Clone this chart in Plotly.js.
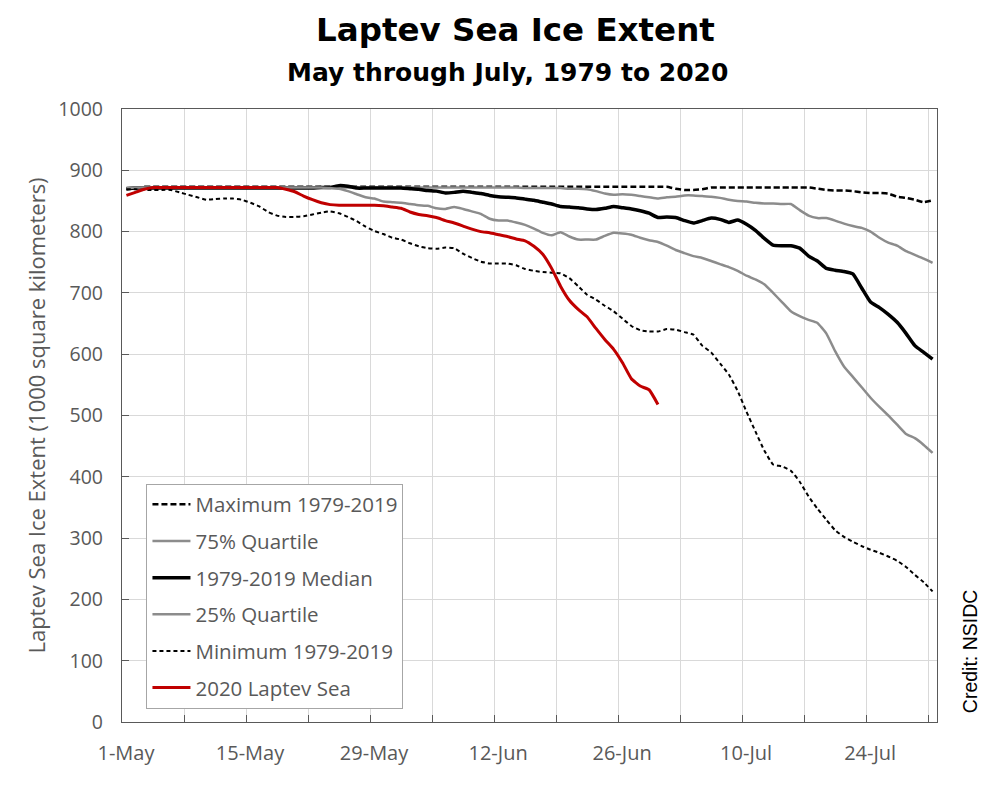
<!DOCTYPE html>
<html><head><meta charset="utf-8">
<script src="https://cdn.plot.ly/plotly-3.0.1.min.js"></script>
<style>html,body{margin:0;padding:0;background:#fff}#chart{width:1005px;height:800px}</style>
</head><body><div id="chart"></div>
<script>
// Daily values (1000 km²), index 0 = 1 May
const maximum = [
  869,871,873,873,873,873,873,873,873,873,
  873,873,873,873,873,873,873,873,873,873,
  873,873,873,873,873,873,873,873,873,873,
  873,873,873,873,873,873,873,873,873,873,
  873,873,873,873,873,873,873,873,873,873,
  873,873,873,873,873,873,873,873,873,873,
  873,873,870,868,868,869,872,872,872,872,
  872,872,872,872,872,872,872,872,870,868,
  867,867,866,864,863,863,862,857,855,852,
  848,851];
const quartile75 = [
  871,872,872,872,872,872,872,872,872,872,
  872,872,872,872,872,872,872,872,872,872,
  872,872,872,872,872,872,872,872,872,872,
  872,872,872,872,872,872,872,872,872,872,
  872,872,872,872,872,871,871,871,871,871,
  870,870,869,866,862,860,861,860,858,856,
  854,856,857,859,859,858,857,855,852,850,
  849,847,846,846,845,845,835,826,822,822,
  818,813,809,806,800,790,782,777,768,762,
  756,749];
const median = [
  870,871,871,871,871,871,871,871,871,871,
  871,871,871,871,871,871,871,871,871,871,
  871,871,872,872,875,874,871,871,871,871,
  871,871,870,869,867,866,863,864,866,864,
  862,859,857,856,855,853,851,848,845,841,
  840,839,837,836,838,841,839,837,834,830,
  823,824,823,818,814,818,822,820,815,819,
  812,802,789,778,777,777,773,760,752,740,
  737,735,731,708,685,676,665,652,634,614,
  603,592];
const quartile25 = [
  871,872,872,872,872,872,872,872,872,872,
  872,872,872,872,872,872,872,872,872,872,
  872,872,872,871,870,866,861,856,854,849,
  848,847,845,843,842,838,837,840,837,833,
  829,821,818,818,815,811,805,798,794,799,
  792,787,787,787,793,798,797,795,790,786,
  783,777,770,765,760,757,752,747,742,736,
  728,722,714,700,685,670,662,656,651,634,
  605,580,563,546,529,514,500,485,470,463,
  452,439];
const minimum = [
  869,869,868,868,868,868,864,860,856,852,
  853,854,854,852,847,841,832,826,824,824,
  825,828,831,833,830,824,817,808,801,796,
  790,787,781,776,773,772,774,773,764,757,
  751,748,748,748,745,739,736,734,733,732,
  724,711,697,689,679,670,658,646,639,637,
  637,641,640,636,632,614,603,585,567,540,
  506,474,443,420,417,410,392,368,348,330,
  313,302,294,287,281,276,270,263,253,240,
  228,213];
const laptev2020 = [
  859,864,869,872,872,872,872,872,872,872,
  872,872,872,872,872,872,872,872,869,865,
  858,852,847,844,843,843,843,843,843,842,
  840,838,832,828,826,823,818,814,809,804,
  800,798,795,792,788,785,776,763,740,711,
  688,673,661,642,624,608,586,560,548,542,
  518];

const tickDates = ['2020-05-01','2020-05-08','2020-05-15','2020-05-22','2020-05-29','2020-06-05','2020-06-12',
  '2020-06-19','2020-06-26','2020-07-03','2020-07-10','2020-07-17','2020-07-24','2020-07-31'];
const tickLabels = ['1-May','','15-May','','29-May','','12-Jun','','26-Jun','','10-Jul','','24-Jul',''];
const yTicks = [0,100,200,300,400,500,600,700,800,900,1000];
const seriesNames = ['Maximum 1979-2019','75% Quartile','1979-2019 Median','25% Quartile','Minimum 1979-2019','2020 Laptev Sea'];

function dayDates(n){
  const out=[];
  for(let i=0;i<n;i++){
    const d=new Date(Date.UTC(2020,4,1+i,12));
    out.push(d.toISOString().slice(0,10)+' 12:00');
  }
  return out;
}

const LBL = '"Open Sans", Lato, sans-serif';
const GRAY = '#595959';
const TITLEF = '"DejaVu Sans", "Liberation Sans", Arial, sans-serif';

const specs = [
  {y:maximum, color:'#000000', width:2.5, dash:'6px,3px'},
  {y:quartile75, color:'#8c8c8c', width:2.5, dash:'solid'},
  {y:median, color:'#000000', width:3.5, dash:'solid'},
  {y:quartile25, color:'#8c8c8c', width:2.5, dash:'solid'},
  {y:minimum, color:'#000000', width:2, dash:'4px,3px'},
  {y:laptev2020, color:'#c00000', width:3, dash:'solid'}
];
const traces = specs.map((s,i)=>({
  type:'scatter', mode:'lines', name:seriesNames[i], legendgroup:'g'+i,
  x:dayDates(s.y.length), y:s.y,
  line:{color:s.color, width:s.width, dash:s.dash, shape:'spline', smoothing:0.4}
}));

const layout = {
  width:1005, height:800,
  margin:{l:122, r:68, t:109, b:78},
  paper_bgcolor:'#ffffff', plot_bgcolor:'#ffffff',
  showlegend:true,
  legend:{x:0.03, y:0.389, xanchor:'left', yanchor:'top', bgcolor:'#ffffff',
    bordercolor:'#a6a6a6', borderwidth:1, font:{family:LBL, size:20.5, color:GRAY},
    traceorder:'grouped', tracegroupgap:7, itemwidth:38},
  xaxis:{type:'date', range:['2020-05-01','2020-08-01'], tickvals:tickDates, ticktext:tickLabels,
    ticks:'inside', ticklen:7, tickcolor:GRAY, showgrid:true, gridcolor:'#d9d9d9', gridwidth:1,
    showline:true, linecolor:GRAY, linewidth:1.3, mirror:true, zeroline:false,
    tickfont:{family:LBL, size:20, color:GRAY}, ticklabelstandoff:13, ticklabelshift:4},
  yaxis:{range:[0,1000], tickvals:yTicks,
    ticks:'inside', ticklen:7, tickcolor:GRAY, showgrid:true, gridcolor:'#d9d9d9', gridwidth:1,
    showline:true, linecolor:GRAY, linewidth:1.3, mirror:true, zeroline:false,
    tickfont:{family:LBL, size:19.5, color:GRAY}, ticklabelstandoff:14,
    title:{text:'Laptev Sea Ice Extent (1000 square kilometers)', font:{family:LBL, size:22, color:GRAY}, standoff:6}},
  annotations:[
    {text:'<b>Laptev Sea Ice Extent</b>', xref:'paper', yref:'paper', x:0.4826, y:1.1287, xanchor:'center', yanchor:'middle', showarrow:false,
     font:{family:TITLEF, size:32.5, color:'#000000'}},
    {text:'<b>May through July, 1979 to 2020</b>', xref:'paper', yref:'paper', x:0.4734, y:1.0594, xanchor:'center', yanchor:'middle', showarrow:false,
     font:{family:TITLEF, size:25, color:'#000000'}},
    {text:'Credit: NSIDC', xref:'paper', yref:'paper', x:1.0408, y:0.116, xanchor:'center', yanchor:'middle', textangle:-90, showarrow:false,
     font:{family:'"Liberation Sans", Arial, sans-serif', size:19.5, color:'#000000'}}
  ]
};
Plotly.newPlot('chart', traces, layout, {displayModeBar:false, responsive:false});
</script>
</body></html>
